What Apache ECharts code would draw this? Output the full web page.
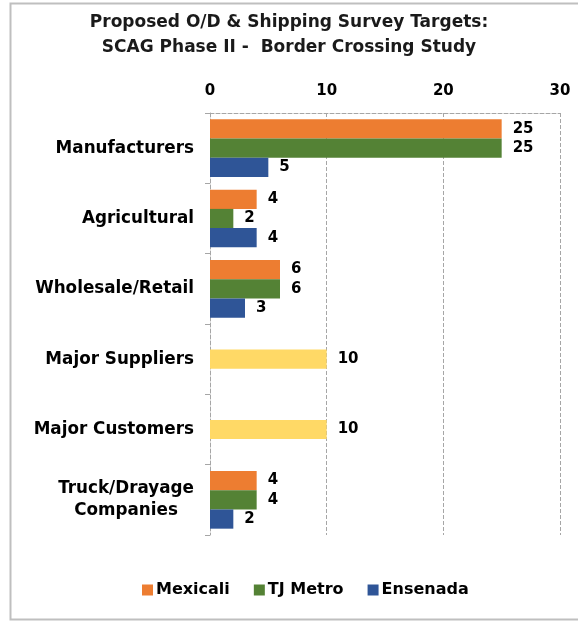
<!DOCTYPE html>
<html><head><meta charset="utf-8">
<script src="https://cdn.jsdelivr.net/npm/echarts@6/dist/echarts.min.js"></script>
<style>html,body{margin:0;padding:0;background:#fff}#c{width:578px;height:623px}</style>
</head><body><div id="c"></div>
<script>
const categories = ['Manufacturers','Agricultural','Wholesale/Retail','Major Suppliers','Major Customers','Truck/Drayage\nCompanies'];
const mexicali = [25, 4, 6, null, null, 4];
const tjMetro = [25, 2, 6, 10, 10, 4];
const ensenada = [5, 4, 3, null, null, 2];
const highlightIdx = [3, 4];
const xTicks = [0, 10, 20, 30];

const FONT = 'DejaVu Sans';
const chart = echarts.init(document.getElementById('c'));
const lbl = {show:true, position:'right', distance:11, color:'#000', fontWeight:'bold', fontSize:15, fontFamily:FONT};
const catStyle = {color:'#000', fontWeight:'bold', fontSize:16.8, fontFamily:FONT};
chart.setOption({
  animation:false,
  title:{text:'Proposed O/D & Shipping Survey Targets:\nSCAG Phase II -  Border Crossing Study', left:'center', top:5,
    textStyle:{fontFamily:FONT, fontWeight:'bold', fontSize:17, lineHeight:25, color:'#1a1a1a'}},
  graphic:[{type:'rect', shape:{x:10.5,y:3.5,width:580,height:616}, style:{fill:null, stroke:'#bfbfbf', lineWidth:2}, silent:true}],
  legend:{bottom:20, left:137, itemWidth:11, itemHeight:11, itemGap:24, icon:'rect',
    textStyle:{fontFamily:FONT, fontWeight:'bold', fontSize:16, color:'#000', padding:[0,0,0,-2]},
    data:['Mexicali','TJ Metro','Ensenada']},
  grid:{left:210, right:18, top:113, bottom:88},
  xAxis:{type:'value', position:'top', min:xTicks[0], max:xTicks[xTicks.length-1], interval:10,
    axisLine:{show:true, lineStyle:{color:'#a6a6a6', type:'dashed'}},
    axisTick:{show:false},
    axisLabel:{color:'#000', fontWeight:'bold', fontSize:15, fontFamily:FONT, margin:14},
    splitLine:{show:true, lineStyle:{color:'#a6a6a6', type:'dashed'}}},
  yAxis:{type:'category', inverse:true, data:categories,
    axisLine:{show:true, lineStyle:{color:'#a6a6a6', type:'dashed'}},
    axisTick:{show:true, length:5, lineStyle:{color:'#a6a6a6'}},
    axisLabel:Object.assign({margin:16, lineHeight:22,
      formatter:function(v){
        if (v.indexOf('\n') < 0) return v;
        return v.split('\n').map(s=>'{c|'+s+'}').join('\n');
      },
      rich:{c:Object.assign({width:136, align:'center', lineHeight:22}, catStyle)}}, catStyle)},
  series:[
    {name:'Mexicali', type:'bar', data:mexicali, itemStyle:{color:'#ED7D31'}, barGap:'0%', barCategoryGap:'18%', label:lbl},
    {name:'TJ Metro', type:'bar', data:tjMetro.map((v,i)=>highlightIdx.includes(i)?{value:v, itemStyle:{color:'#FFD966'}}:v), itemStyle:{color:'#548235'}, barGap:'0%', barCategoryGap:'18%', label:lbl},
    {name:'Ensenada', type:'bar', data:ensenada, itemStyle:{color:'#2F5597'}, barGap:'0%', barCategoryGap:'18%', label:lbl}
  ]
});
</script></body></html>
